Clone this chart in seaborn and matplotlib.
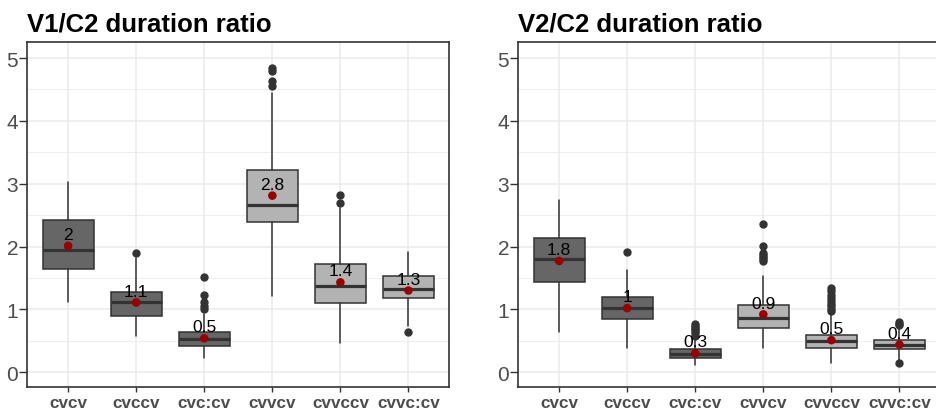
import numpy as np
import matplotlib
matplotlib.use('Agg')
import matplotlib.pyplot as plt
import seaborn as sns

# syllable structures on the x axis
categories = ['cvcv', 'cvccv', 'cvc:cv', 'cvvcv', 'cvvccv', 'cvvc:cv']
box_colours = ['#666666', '#666666', '#666666', '#B3B3B3', '#B3B3B3', '#B3B3B3']

# V1/C2 duration ratio - box summaries
v1_q1 = [1.64, 0.89, 0.42, 2.39, 1.10, 1.18]
v1_med = [1.94, 1.12, 0.53, 2.66, 1.37, 1.32]
v1_q3 = [2.42, 1.28, 0.64, 3.22, 1.73, 1.53]
v1_lo = [1.11, 0.57, 0.22, 1.22, 0.46, 0.74]
v1_hi = [3.03, 1.81, 0.93, 4.44, 2.62, 1.91]
v1_fliers = [[], [1.90], [1.51, 1.23, 1.11, 1.06, 1.01],
             [4.84, 4.80, 4.64, 4.55], [2.82, 2.69], [0.64]]
v1_mean = [2.01, 1.11, 0.54, 2.81, 1.43, 1.30]
v1_labels = ['2', '1.1', '0.5', '2.8', '1.4', '1.3']

# V2/C2 duration ratio
v2_q1 = [1.43, 0.85, 0.23, 0.71, 0.38, 0.37]
v2_med = [1.80, 1.02, 0.29, 0.87, 0.50, 0.43]
v2_q3 = [2.14, 1.20, 0.37, 1.07, 0.60, 0.51]
v2_lo = [0.64, 0.38, 0.11, 0.38, 0.15, 0.20]
v2_hi = [2.74, 1.62, 0.52, 1.53, 0.92, 0.70]
v2_fliers = [[], [1.92], [0.77, 0.74, 0.71, 0.68, 0.65, 0.62, 0.58],
             [2.36, 2.01, 1.89, 1.86, 1.83, 1.80, 1.77],
             [1.34, 1.29, 1.23, 1.18, 1.13, 1.09, 1.05, 1.01, 0.97],
             [0.80, 0.77, 0.75, 0.15]]
v2_mean = [1.77, 1.02, 0.30, 0.92, 0.51, 0.44]
v2_labels = ['1.8', '1', '0.3', '0.9', '0.5', '0.4']

sns.set_theme(style='white')
plt.rcParams['font.family'] = ['Liberation Sans', 'DejaVu Sans']

fig = plt.figure(figsize=(9.36, 4.10), dpi=100)
ax1 = fig.add_axes([27.3 / 936, 21.7 / 410, 422 / 936, 345 / 410])
ax2 = fig.add_axes([518.3 / 936, 21.7 / 410, 422 / 936, 345 / 410])


def draw_panel(ax, title, q1, med, q3, lo, hi, fliers, means, labels):
    stats = [dict(q1=a, med=b, q3=c, whislo=d, whishi=e, fliers=f)
             for a, b, c, d, e, f in zip(q1, med, q3, lo, hi, fliers)]
    pos = np.arange(len(categories))
    bp = ax.bxp(stats, positions=pos, widths=0.75, patch_artist=True, showcaps=False,
                boxprops=dict(edgecolor='#333333', linewidth=1.1),
                medianprops=dict(color='#333333', linewidth=2.3),
                whiskerprops=dict(color='#333333', linewidth=1.1),
                flierprops=dict(marker='o', markerfacecolor='#333333',
                                markeredgecolor='#333333', markersize=5))
    for patch, c in zip(bp['boxes'], box_colours):
        patch.set_facecolor(c)

    # group means in red with their rounded value above
    sns.scatterplot(x=pos, y=means, color='#990000', s=38, edgecolor='none',
                    ax=ax, zorder=4)
    for x, m, t in zip(pos, means, labels):
        ax.annotate(t, (x, m), xytext=(0, 8.2), textcoords='offset points',
                    ha='center', va='center', fontsize=12.5, color='black', zorder=5)

    ax.set_xlim(-0.6, 5.6)
    ax.set_ylim(-0.24, 5.25)
    ax.set_xticks(pos)
    ax.set_xticklabels(categories, fontsize=12.3, fontweight='bold', color='#4D4D4D')
    ax.set_yticks(range(6))
    ax.set_yticks(np.arange(0.5, 5.5, 1), minor=True)
    ax.tick_params(axis='y', which='major', labelsize=15, labelcolor='#4D4D4D',
                   length=5.5, width=1, color='#333333', pad=1, left=True)
    ax.tick_params(axis='x', which='major', length=3.5, width=1, color='#333333',
                   pad=2, bottom=True)
    ax.tick_params(which='minor', length=0)
    ax.grid(which='major', color='#EBEBEB', linewidth=1.1)
    ax.grid(which='minor', axis='y', color='#EBEBEB', linewidth=0.6)
    ax.set_axisbelow(True)
    for s in ax.spines.values():
        s.set_color('#333333')
        s.set_linewidth(1.2)
    ax.set_xlabel('')
    ax.set_ylabel('')
    ax.set_title(title, loc='left', fontsize=18.5, fontweight='bold', pad=8.4,
                 color='black')


draw_panel(ax1, 'V1/C2 duration ratio', v1_q1, v1_med, v1_q3, v1_lo, v1_hi,
           v1_fliers, v1_mean, v1_labels)
draw_panel(ax2, 'V2/C2 duration ratio', v2_q1, v2_med, v2_q3, v2_lo, v2_hi,
           v2_fliers, v2_mean, v2_labels)

plt.savefig('out.png', dpi=100)
